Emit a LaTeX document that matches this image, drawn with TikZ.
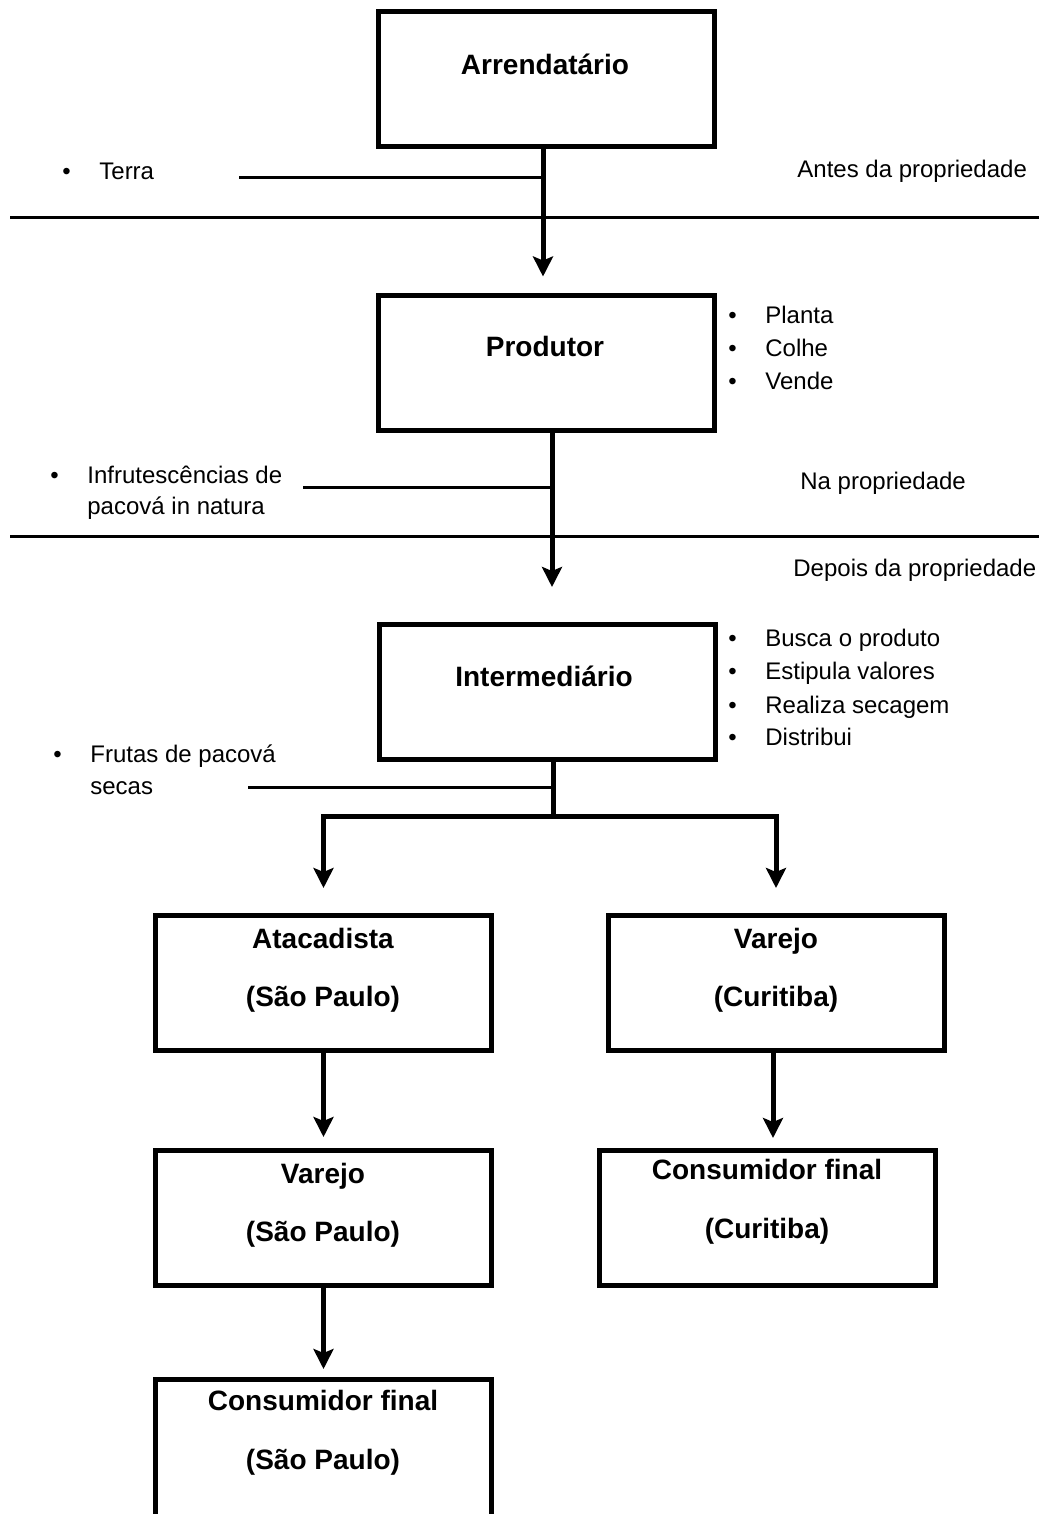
\documentclass[tikz,border=0pt]{standalone}
\usepackage{fontspec}
\setmainfont{Liberation Sans}
\usetikzlibrary{arrows.meta}

\newcommand{\bul}{\makebox[18.5pt][l]{\textbullet}}

\begin{document}
\begin{tikzpicture}[x=0.5pt, y=-0.5pt, >={Stealth[length=10pt, width=10pt, inset=2pt]},
	box/.style={draw, line width=2.5pt, minimum width=168pt, minimum height=67.5pt, inner sep=0pt},
	boxtxt/.style={font=\fontsize{14}{16}\selectfont\bfseries, inner sep=0pt, text height=1.5ex, text depth=.25ex},
	txt/.style={font=\fontsize{12}{14}\selectfont, anchor=west, inner sep=0pt, text height=1.5ex, text depth=.25ex},
	flow/.style={line width=2.5pt, ->},
	feed/.style={line width=1.5pt},
	sep/.style={line width=1.5pt}]
	\useasboundingbox (0,0) rectangle (1039,1514);
	\clip (0,0) rectangle (1039,1514);
	
	% Boxes
	\node[box] (arr) at (546,79.5) {};
	\node[box] (prod) at (546,362.5) {};
	\node[box] (inter) at (547,692) {};
	\node[box] (atac) at (323.5,983) {};
	\node[box] (varC) at (776,983) {};
	\node[box] (varSP) at (323.5,1218) {};
	\node[box] (consC) at (767.5,1218) {};
	\node[box, anchor=north, minimum height=90pt] (consSP) at (323.5,1377) {};
	
	% Box texts
	\node[boxtxt] (arrT) at (545,68) {Arrendatário};
	\node[boxtxt] (prodT) at (545,350) {Produtor};
	\node[boxtxt] (interT) at (544,680) {Intermediário};
	\node[boxtxt] (atacT) at (323,942) {Atacadista};
	\node[boxtxt] (atacS) at (323,1000) {(São Paulo)};
	\node[boxtxt] (varCT) at (776,942) {Varejo};
	\node[boxtxt] (varCS) at (776,1000) {(Curitiba)};
	\node[boxtxt] (varSPT) at (323,1177) {Varejo};
	\node[boxtxt] (varSPS) at (323,1235) {(São Paulo)};
	\node[boxtxt] (consCT) at (767,1173) {Consumidor final};
	\node[boxtxt] (consCS) at (767,1232) {(Curitiba)};
	\node[boxtxt] (consSPT) at (323,1404) {Consumidor final};
	\node[boxtxt] (consSPS) at (323,1463) {(São Paulo)};
	
	% Side texts
	\node[txt] (terra) at (62,173) {\bul Terra};
	\node[txt] (antes) at (797,171) {Antes da propriedade};
	\node[txt] (planta) at (728,317) {\bul Planta};
	\node[txt] (colhe) at (728,350) {\bul Colhe};
	\node[txt] (vende) at (728,383) {\bul Vende};
	\node[txt] (infrut) at (50,477) {\bul Infrutescências de};
	\node[txt] (infrut2) at (87,508) {pacová in natura};
	\node[txt] (na) at (800,483) {Na propriedade};
	\node[txt] (depois) at (793,570) {Depois da propriedade};
	\node[txt] (busca) at (728,640) {\bul Busca o produto};
	\node[txt] (estipula) at (728,673) {\bul Estipula valores};
	\node[txt] (realiza) at (728,707) {\bul Realiza secagem};
	\node[txt] (distribui) at (728,739) {\bul Distribui};
	\node[txt] (frutas) at (53,756) {\bul Frutas de pacová};
	\node[txt] (frutas2) at (90,788) {secas};
	
	% Separators
	\draw[sep] (10,218) -- (1039,218);
	\draw[sep] (10,536) -- (1039,536);
	
	% Flow
	\coordinate (arrDown) at ([xshift=-1.5pt]arr.south);
	\coordinate (prodDown) at ([xshift=3pt]prod.south);
	\coordinate (interDown) at ([xshift=3pt]inter.south);
	\coordinate (fork) at (553,816);
	\draw[flow, shorten >=8pt] (arrDown) -- (arrDown |- prod.north);
	\draw[flow, shorten >=17.5pt] (prodDown) -- (prodDown |- inter.north);
	\draw[line width=2.5pt] (interDown) -- (fork);
	\draw[flow, shorten >=12.5pt] (fork) -| (atac.north);
	\draw[flow, shorten >=12.5pt] (fork) -| (varC.north);
	\draw[flow, shorten >=5.5pt] (atac.south) -- (varSP.north);
	\draw[flow, shorten >=5pt] ([xshift=-1.5pt]varC.south) -- ([xshift=-1.5pt]varC.south |- consC.north);
	\draw[flow, shorten >=4pt] (varSP.south) -- (consSP.north);
	
	% Feed lines
	\coordinate (terraL) at (239,178);
	\coordinate (infrutL) at (303,487);
	\coordinate (frutasL) at (248,787);
	\draw[feed] (terraL) -- (terraL -| arrDown);
	\draw[feed] (infrutL) -- (infrutL -| prodDown);
	\draw[feed] (frutasL) -- (frutasL -| interDown);
\end{tikzpicture}
\end{document}
